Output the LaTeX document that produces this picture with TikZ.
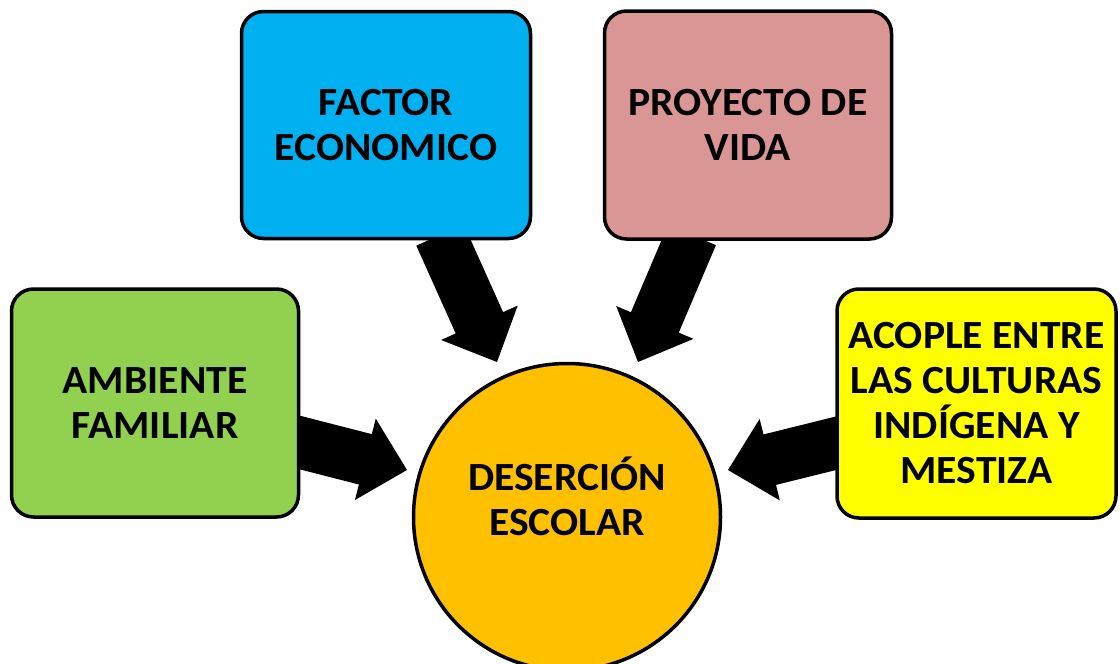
\documentclass[tikz,border=0pt]{standalone}
\usepackage{fontspec}
\setmainfont{Carlito}[FakeStretch=1.04]
\usetikzlibrary{calc}
\definecolor{cgreen}{HTML}{92D050}
\definecolor{cblue}{HTML}{00B0F0}
\definecolor{cpink}{HTML}{DA9694}
\definecolor{cyellow}{HTML}{FFFF00}
\definecolor{corange}{HTML}{FFC000}
\newcommand\blockarrow[2]{%
  \path (#2) coordinate (tipP) ($(#2)!43pt!(#1)$) coordinate (baseP);
  \fill[black] ($(#1)!26pt!90:(tipP)$) -- ($(baseP)!26pt!-90:(#1)$) -- ($(baseP)!42pt!-90:(#1)$) -- (tipP)
     -- ($(baseP)!42pt!90:(#1)$) -- ($(baseP)!26pt!90:(#1)$) -- ($(#1)!26pt!-90:(tipP)$) -- cycle;}
\tikzset{
  factor/.style={draw=black, line width=3.5pt, rounded corners=22pt, align=center,
    font=\fontsize{40}{45}\selectfont\bfseries, text=black},
  center/.style={circle, draw=black, line width=3.5pt, fill=corange, align=center,
    font=\fontsize{40}{45}\selectfont\bfseries, text=black, minimum size=307pt, inner sep=0pt}
}
\begin{document}
\begin{tikzpicture}[x=1pt,y=-1pt]
\useasboundingbox (0,0) rectangle (1120,664);
\clip (0,0) rectangle (1120,664);
\fill[white] (0,0) rectangle (1120,664);
% arrow anchor points
\coordinate (s1) at (290,440);  \coordinate (e1) at (407,470);
\coordinate (s2) at (440,235);  \coordinate (e2) at (497,362);
\coordinate (s3) at (692,235);  \coordinate (e3) at (638,362);
\coordinate (s4) at (845,441);  \coordinate (e4) at (728,470);
\blockarrow{s1}{e1}
\blockarrow{s2}{e2}
\blockarrow{s3}{e3}
\blockarrow{s4}{e4}
\node[factor, fill=cgreen, minimum width=287pt, minimum height=228pt] (amb) at (155,403) {AMBIENTE\\FAMILIAR};
\node[factor, fill=cblue, minimum width=289pt, minimum height=227pt] (eco) at (386,125) {FACTOR\\ECONOMICO};
\node[factor, fill=cpink, minimum width=287pt, minimum height=228pt] (vida) at (748,125) {PROYECTO DE\\VIDA};
\node[factor, fill=cyellow, minimum width=279pt, minimum height=229pt] (acop) at (976.5,403.5) {ACOPLE ENTRE\\LAS CULTURAS\\INDÍGENA Y\\MESTIZA};
\node[center] (des) at (567,517) {DESERCIÓN\\ESCOLAR\\[-4pt]\mbox{}};
\end{tikzpicture}
\end{document}
